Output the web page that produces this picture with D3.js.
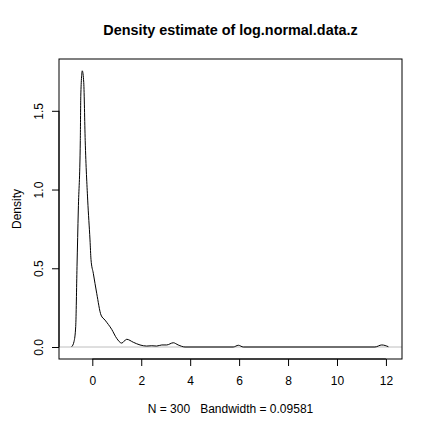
<!DOCTYPE html>
<html>
<head>
<meta charset="utf-8">
<script src="https://cdn.jsdelivr.net/npm/d3@7"></script>
<style>
  body { margin: 0; background: #fff; }
  text { font-family: "Liberation Sans", Arial, sans-serif; fill: #000; white-space: pre; }
</style>
</head>
<body>
<script>
const w = 432;
const h = 432;

// density curve
const densX = [-0.842, -0.748, -0.678, -0.625, -0.572, -0.49, -0.47, -0.409, -0.35, -0.29, -0.188,
  -0.094, -0.053, 0.041, 0.18, 0.356, 0.519, 0.793, 0.997, 1.2, 1.406, 1.676, 1.95, 2.22, 2.43,
  2.63, 2.84, 3.04, 3.31, 3.51, 3.79, 5.76, 5.97, 6.17, 11.55, 11.83, 12.1];
const densY = [0.002, 0.034, 0.13, 0.51, 0.87, 1.31, 1.60, 1.754, 1.68, 1.31, 0.933,
  0.68, 0.555, 0.468, 0.341, 0.203, 0.171, 0.112, 0.055, 0.025, 0.049, 0.030, 0.013, 0.006, 0.008,
  0.006, 0.013, 0.013, 0.027, 0.013, 0.0, 0.0, 0.011, 0.0, 0.0, 0.013, 0.002];

const xTicks = [0, 2, 4, 6, 8, 10, 12];
const yTicks = [0, 0.5, 1.0, 1.5];
const yTickLabels = ["0.0", "0.5", "1.0", "1.5"];

const titleText = "Density estimate of log.normal.data.z";
const xLabel = "N = 300   Bandwidth = 0.09581";
const yLabel = "Density";

const data = densX.map((x, i) => ({x: x, y: densY[i]}));

const plotLeft = 59, plotRight = 402, plotTop = 59, plotBottom = 359;

const svg = d3.select("body")
  .append("svg")
  .attr("width", w)
  .attr("height", h);

const xScale = d3.scaleLinear()
  .domain([-1.361, 12.657])
  .range([plotLeft, plotRight]);

const yScale = d3.scaleLinear()
  .domain([-0.0762, 1.829])
  .range([plotBottom, plotTop]);

// zero line
svg.append("line")
  .attr("x1", plotLeft).attr("x2", plotRight)
  .attr("y1", yScale(0)).attr("y2", yScale(0))
  .style("stroke", "#bebebe")
  .style("stroke-width", 1);

const line = d3.line()
  .x(d => xScale(d.x))
  .y(d => yScale(d.y))
  .curve(d3.curveMonotoneX);

svg.append("path")
  .datum(data)
  .attr("d", line)
  .style("fill", "none")
  .style("stroke", "#000")
  .style("stroke-width", 1);

// box
svg.append("rect")
  .attr("x", plotLeft).attr("y", plotTop)
  .attr("width", plotRight - plotLeft).attr("height", plotBottom - plotTop)
  .style("fill", "none")
  .style("stroke", "#000")
  .style("stroke-width", 1);

const xAxis = d3.axisBottom(xScale)
  .tickValues(xTicks)
  .tickSize(7)
  .tickPadding(10)
  .tickFormat(d3.format("d"));

const gx = svg.append("g")
  .attr("transform", "translate(0," + plotBottom + ")")
  .call(xAxis)
  .attr("font-family", null)
  .attr("font-size", null);
gx.select(".domain").remove();
gx.append("line")
  .attr("x1", xScale(0)).attr("x2", xScale(12))
  .style("stroke", "#000");
gx.selectAll("text")
  .style("font-size", "12px")
  .attr("fill", "#000");

const yAxis = d3.axisLeft(yScale)
  .tickValues(yTicks)
  .tickSize(7)
  .tickFormat((d, i) => yTickLabels[i]);

const gy = svg.append("g")
  .attr("transform", "translate(" + plotLeft + ",0)")
  .call(yAxis)
  .attr("font-family", null)
  .attr("font-size", null);
gy.select(".domain").remove();
gy.append("line")
  .attr("y1", yScale(0)).attr("y2", yScale(1.5))
  .style("stroke", "#000");
gy.selectAll(".tick text")
  .attr("x", null).attr("dy", null)
  .attr("transform", "translate(-16,0) rotate(-90)")
  .attr("text-anchor", "middle")
  .style("font-size", "12px")
  .attr("fill", "#000");

svg.append("text")
  .attr("x", (plotLeft + plotRight) / 2)
  .attr("y", 35)
  .attr("text-anchor", "middle")
  .style("font-size", "14.4px")
  .style("font-weight", "bold")
  .text(titleText);

svg.append("text")
  .attr("x", (plotLeft + plotRight) / 2)
  .attr("y", 413)
  .attr("text-anchor", "middle")
  .style("font-size", "12px")
  .text(xLabel);

svg.append("text")
  .attr("transform", "translate(21," + (plotTop + plotBottom) / 2 + ") rotate(-90)")
  .attr("text-anchor", "middle")
  .style("font-size", "12px")
  .text(yLabel);
</script>
</body>
</html>
